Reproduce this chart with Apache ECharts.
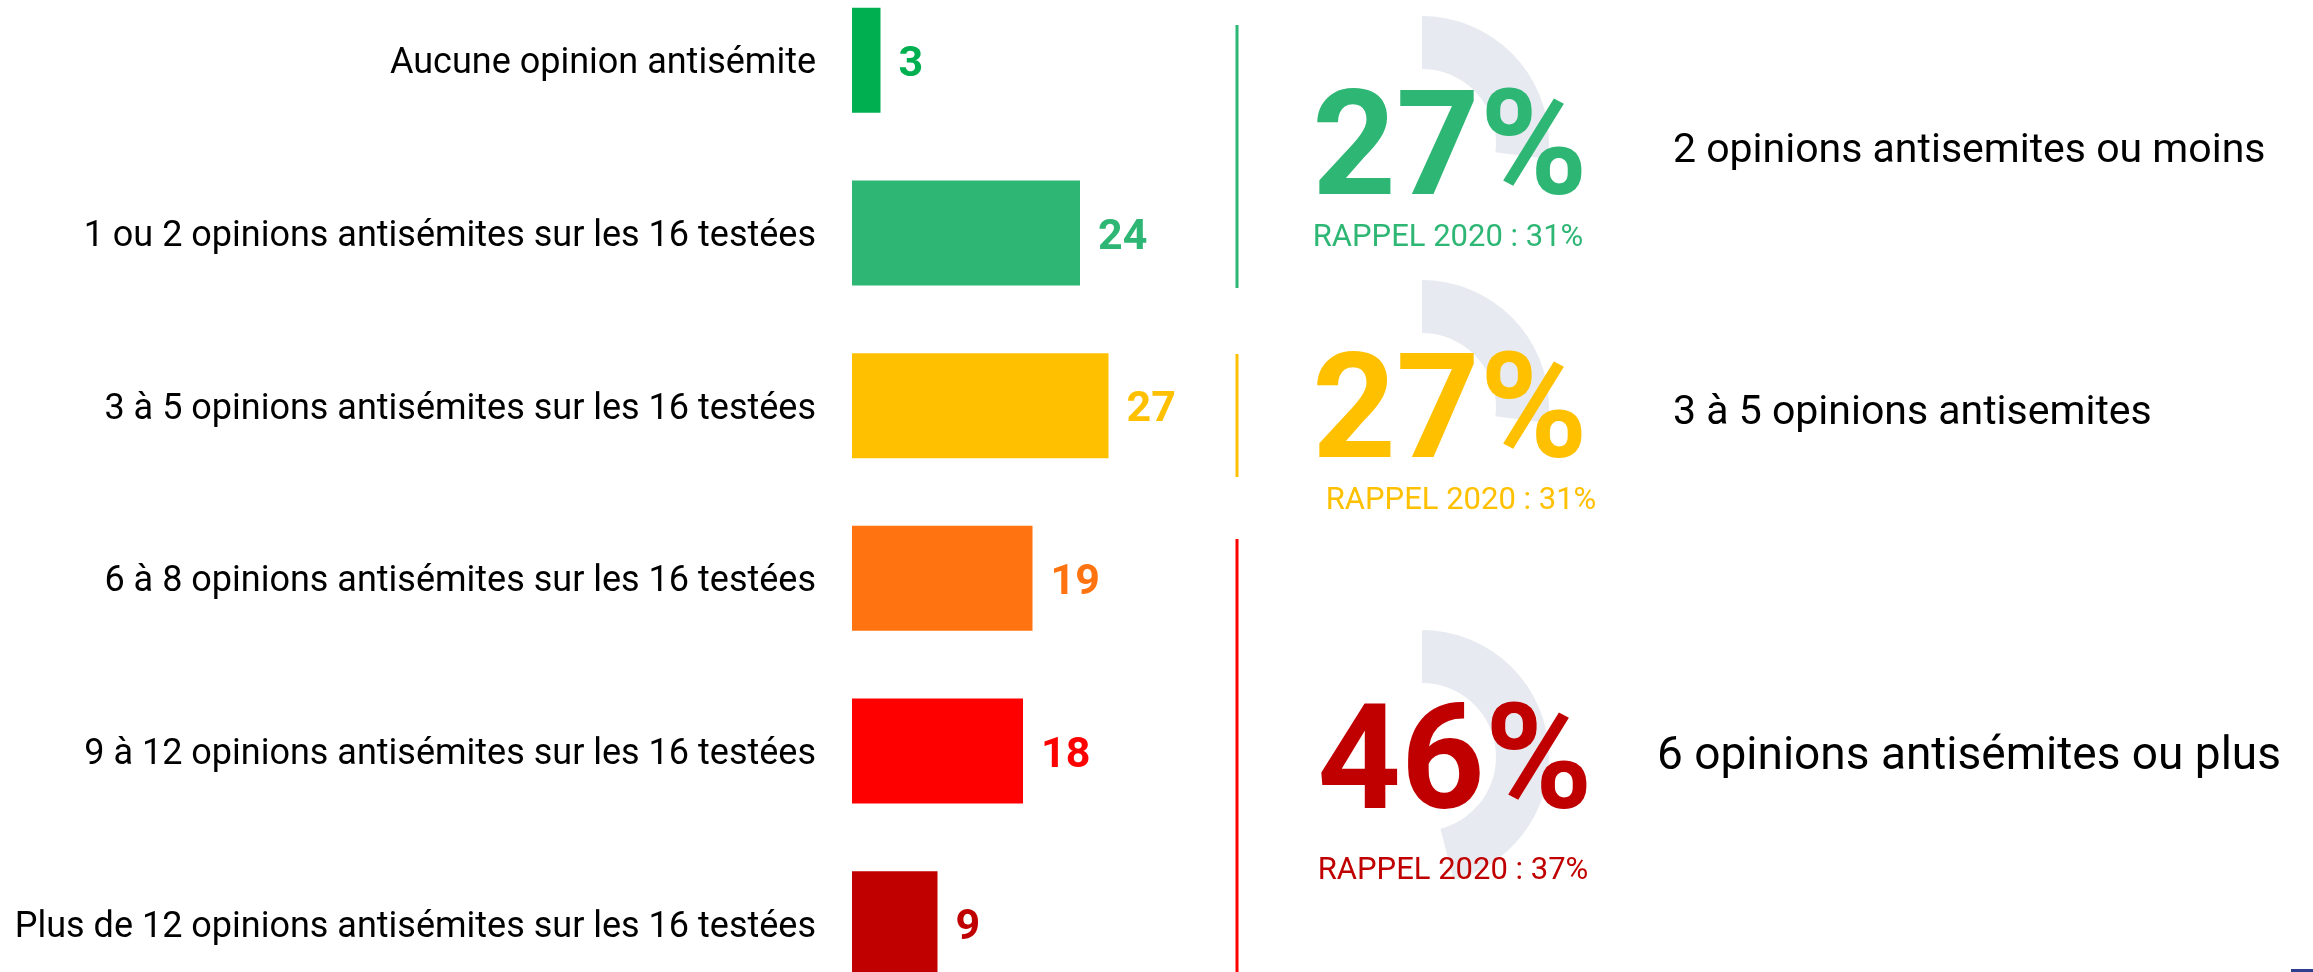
<!DOCTYPE html>
<html>
<head>
<meta charset="utf-8">
<title>Opinions antisémites</title>
<script src="https://cdn.jsdelivr.net/npm/echarts@6/dist/echarts.min.js"></script>
<style>
  html, body { margin: 0; padding: 0; background: #fff; }
  #chart { width: 2313px; height: 972px; }
</style>
</head>
<body>
<div id="chart"></div>
<script>
// catégories du diagramme en barres (de haut en bas)
const categories = [
  "Aucune opinion antisémite",
  "1 ou 2 opinions antisémites sur les 16 testées",
  "3 à 5 opinions antisémites sur les 16 testées",
  "6 à 8 opinions antisémites sur les 16 testées",
  "9 à 12 opinions antisémites sur les 16 testées",
  "Plus de 12 opinions antisémites sur les 16 testées"
];
const values = [3, 24, 27, 19, 18, 9];

// regroupements à droite
const groupShares = [27, 27, 46];
const recall2020 = [31, 31, 37];
const groupLabels = [
  "2 opinions antisemites ou moins",
  "3 à 5 opinions antisemites",
  "6 opinions antisémites ou plus"
];

const barColors = ["#00b050", "#2eb774", "#ffc000", "#ff7410", "#ff0000", "#c00000"];
const groupColors = ["#2eb774", "#ffc000", "#c00000"];
const lineColors = ["#2eb774", "#ffc000", "#ff0000"];
const ringColor = "#e7eaf0";
const textFont = "Roboto, sans-serif";
const boldFont = "Roboto, sans-serif";

// positions des blocs de droite
const ringCenters = [[1422, 143], [1422, 407], [1422, 757]];
const bigTextPos = [[1450, 157], [1450, 420], [1455, 771]];
const recallPos = [[1448, 238], [1461, 501], [1453, 871]];
const labelPos = [[1673, 152], [1673, 414], [1657, 757]];
const labelSizes = [41, 41, 46];
const sepLines = [[25, 288], [354, 477], [539, 972]];

let myChart = echarts.init(document.getElementById("chart"));

let series = [
  {
    type: "bar",
    data: values.map(function (v, i) {
      return {
        value: v,
        itemStyle: { color: barColors[i] },
        label: { color: barColors[i] }
      };
    }),
    barWidth: 105,
    silent: true,
    label: {
      show: true,
      position: "right",
      distance: 18,
      offset: [0, 5],
      fontFamily: boldFont,
      fontWeight: "bold",
      fontSize: 43
    }
  }
];

// anneaux gris (part du groupe sur 100)
groupShares.forEach(function (share, i) {
  series.push({
    type: "pie",
    center: ringCenters[i],
    radius: [74, 127],
    startAngle: 90,
    silent: true,
    label: { show: false },
    labelLine: { show: false },
    emphasis: { disabled: true },
    data: [
      { value: share, itemStyle: { color: ringColor } },
      { value: 100 - share, itemStyle: { color: "transparent" } }
    ]
  });
});

let graphics = [];
groupShares.forEach(function (share, i) {
  graphics.push({
    type: "line",
    z: 100,
    shape: { x1: 1237, y1: sepLines[i][0], x2: 1237, y2: sepLines[i][1] },
    style: { stroke: lineColors[i], lineWidth: 3 }
  });
  graphics.push({
    type: "text",
    z: 100,
    x: bigTextPos[i][0],
    y: bigTextPos[i][1],
    style: {
      text: share + "%",
      fill: groupColors[i],
      font: "bold 146px " + boldFont,
      textAlign: "center",
      textVerticalAlign: "middle"
    }
  });
  graphics.push({
    type: "text",
    z: 100,
    x: recallPos[i][0],
    y: recallPos[i][1],
    style: {
      text: "RAPPEL 2020 : " + recall2020[i] + "%",
      fill: groupColors[i],
      font: "31px " + textFont,
      textAlign: "center",
      textVerticalAlign: "middle"
    }
  });
  graphics.push({
    type: "text",
    z: 100,
    x: labelPos[i][0],
    y: labelPos[i][1],
    style: {
      text: groupLabels[i],
      fill: "#000",
      font: labelSizes[i] + "px " + textFont,
      textAlign: "left",
      textVerticalAlign: "middle"
    }
  });
});
// petit repère bleu en bas à droite
graphics.push({
  type: "rect",
  z: 100,
  shape: { x: 2291, y: 969, width: 22, height: 3 },
  style: { fill: "#2f3f8f" }
});

let option = {
  animation: false,
  backgroundColor: "#fff",
  grid: {
    left: 852,
    right: 511,
    top: -26,
    bottom: -38,
    outerBoundsMode: "none",
    containLabel: false
  },
  xAxis: {
    type: "value",
    min: 0,
    max: 100,
    show: false
  },
  yAxis: {
    type: "category",
    inverse: true,
    data: categories,
    axisLine: { show: false },
    axisTick: { show: false },
    splitLine: { show: false },
    axisLabel: {
      margin: 36,
      formatter: function (value) {
        return "{a|" + value + "}";
      },
      rich: {
        a: {
          color: "#000",
          fontFamily: textFont,
          fontSize: 36,
          padding: [8, 0, 0, 0]
        }
      }
    }
  },
  series: series,
  graphic: graphics
};
myChart.setOption(option);
window.onresize = myChart.resize;
</script>
</body>
</html>
